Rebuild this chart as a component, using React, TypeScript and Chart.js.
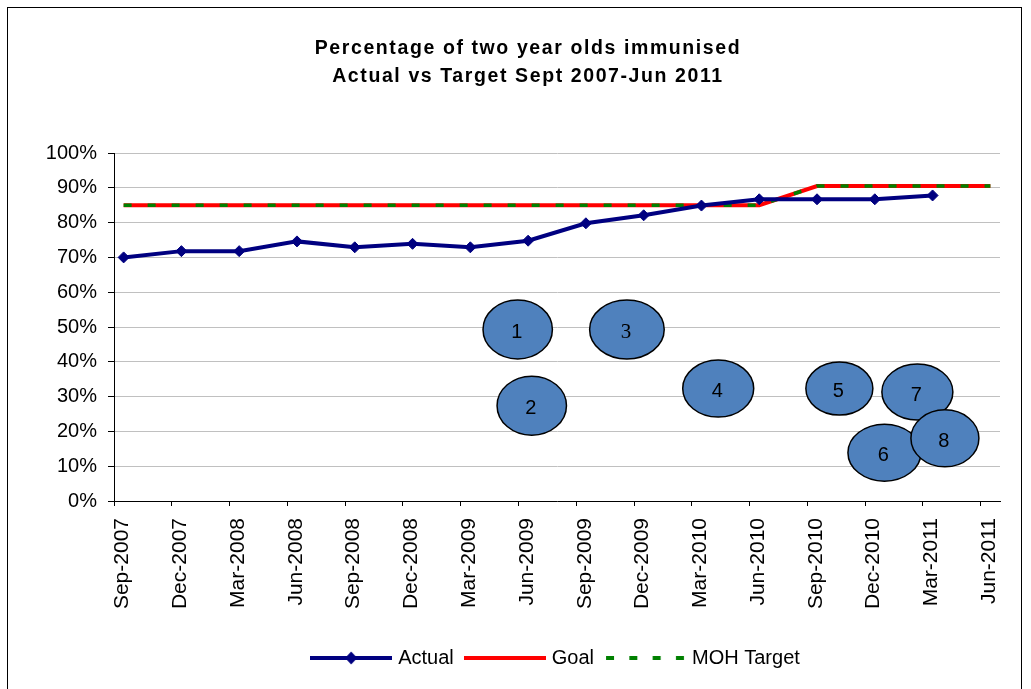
import React, { useEffect, useRef } from "react";
import { Chart, registerables } from "chart.js";

Chart.register(...registerables);

// ---- data ----
const tickLabels = [
  "Sep-2007", "Dec-2007", "Mar-2008", "Jun-2008", "Sep-2008", "Dec-2008",
  "Mar-2009", "Jun-2009", "Sep-2009", "Dec-2009", "Mar-2010", "Jun-2010",
  "Sep-2010", "Dec-2010", "Mar-2011", "Jun-2011",
];
const yTickValues = [0, 10, 20, 30, 40, 50, 60, 70, 80, 90, 100];
const actualValues = [70.0, 71.8, 71.8, 74.6, 72.9, 73.9, 72.9, 74.8, 79.8, 82.1, 84.9, 86.7, 86.7, 86.7, 87.8];
const goalValues = [85, 85, 85, 85, 85, 85, 85, 85, 85, 85, 85, 85, 90.5, 90.5, 90.5, 90.5];
const mohTargetValues = [85, 85, 85, 85, 85, 85, 85, 85, 85, 85, 85, 85, 90.5, 90.5, 90.5, 90.5];
// numbered callouts: x in months since Sep-2007, y in %
const bubbleLabels = ["1", "2", "3", "4", "5", "6", "7", "8"];
const bubbleX = [20.96, 21.69, 26.63, 31.37, 37.66, 40.0, 41.71, 43.14];
const bubbleY = [49.3, 27.4, 49.3, 32.3, 32.3, 13.9, 31.3, 18.0];

// ---- styles ----
const FONT = "'Liberation Sans', Arial, sans-serif";
const NAVY = "#000080";
const RED = "#FF0000";
const GREEN = "#008000";
const BUBBLE_RX = [34.7, 34.7, 37.3, 35.5, 33.5, 36.5, 35.5, 34];
const BUBBLE_RY = [29.5, 29.5, 29.5, 28.5, 26.5, 28.5, 28, 28.5];
const BUBBLE_FONT = ["sans", "sans", "serif", "sans", "sans", "sans", "sans", "sans"];
const MONTHS_PER_TICK = 3;
const POINT_OFFSET = 0.5; // data recorded mid-month
const TITLE_SHIFT_X = 7;

const bubblePlugin = {
  id: "numberedBubbles",
  afterDatasetsDraw(chart: any) {
    const { ctx, scales } = chart;
    const xs = scales.x;
    const ys = scales.y;
    bubbleLabels.forEach((lab, i) => {
      const cx = xs.getPixelForValue(bubbleX[i]);
      const cy = ys.getPixelForValue(bubbleY[i]);
      ctx.save();
      ctx.beginPath();
      ctx.ellipse(cx, cy, BUBBLE_RX[i], BUBBLE_RY[i], 0, 0, Math.PI * 2);
      ctx.fillStyle = "#4F81BD";
      ctx.fill();
      ctx.lineWidth = 1.5;
      ctx.strokeStyle = "#000";
      ctx.stroke();
      ctx.fillStyle = "#000";
      ctx.font =
        BUBBLE_FONT[i] === "serif"
          ? "21px 'Liberation Serif', 'Times New Roman', serif"
          : `20px ${FONT}`;
      ctx.textAlign = "center";
      ctx.textBaseline = "middle";
      ctx.fillText(lab, cx - 1, cy + 3);
      ctx.restore();
    });
  },
};

function makeLegendImage(kind: string): HTMLCanvasElement {
  const c = document.createElement("canvas");
  c.width = 82;
  c.height = 16;
  const g = c.getContext("2d")!;
  const y = 8;
  g.lineWidth = 4;
  if (kind === "actual") {
    g.strokeStyle = NAVY;
    g.beginPath();
    g.moveTo(0, y);
    g.lineTo(82, y);
    g.stroke();
    g.fillStyle = NAVY;
    g.beginPath();
    g.moveTo(41, y - 6.5);
    g.lineTo(47, y);
    g.lineTo(41, y + 6.5);
    g.lineTo(35, y);
    g.closePath();
    g.fill();
  } else if (kind === "goal") {
    g.strokeStyle = RED;
    g.beginPath();
    g.moveTo(0, y);
    g.lineTo(82, y);
    g.stroke();
  } else {
    g.strokeStyle = GREEN;
    g.setLineDash([8, 15.3]);
    g.beginPath();
    g.moveTo(2, y);
    g.lineTo(81, y);
    g.stroke();
  }
  return c;
}

export default function App() {
  const canvasRef = useRef<HTMLCanvasElement>(null);

  useEffect(() => {
    const canvas = canvasRef.current;
    if (!canvas) return;
    const legendImgs = {
      actual: makeLegendImage("actual"),
      goal: makeLegendImage("goal"),
      moh: makeLegendImage("moh"),
    };
    const chart = new Chart(canvas, {
      type: "line",
      data: {
        datasets: [
          {
            label: "Actual",
            data: actualValues.map((v, i) => ({ x: i * MONTHS_PER_TICK + POINT_OFFSET, y: v })),
            borderColor: NAVY,
            backgroundColor: NAVY,
            borderWidth: 4,
            pointStyle: "rectRot",
            pointRadius: 5.5,
            pointBorderWidth: 1,
            pointBackgroundColor: NAVY,
            pointBorderColor: NAVY,
            tension: 0,
            order: 0,
          },
          {
            label: "Goal",
            data: goalValues.map((v, i) => ({ x: i * MONTHS_PER_TICK + POINT_OFFSET, y: v })),
            borderColor: RED,
            backgroundColor: RED,
            borderWidth: 4,
            pointRadius: 0,
            tension: 0,
            order: 2,
          },
          {
            label: "MOH Target",
            data: mohTargetValues.map((v, i) => ({ x: i * MONTHS_PER_TICK + POINT_OFFSET, y: v })),
            borderColor: GREEN,
            backgroundColor: GREEN,
            borderWidth: 3.5,
            borderDash: [8, 16],
            pointRadius: 0,
            tension: 0,
            order: 1,
          },
        ],
      },
      options: {
        animation: false,
        responsive: false,
        devicePixelRatio: 1,
        layout: { padding: { left: 34, right: 21, top: 17.25, bottom: 50 } },
        scales: {
          x: {
            type: "linear",
            min: 0,
            max: 46,
            afterBuildTicks: (s: any) => {
              s.ticks = tickLabels.map((_, i) => ({ value: i * MONTHS_PER_TICK }));
            },
            afterFit: (s: any) => {
              s.height = 133;
            },
            ticks: {
              autoSkip: false,
              minRotation: 90,
              maxRotation: 90,
              labelOffset: 8.5,
              padding: 12,
              color: "#000",
              font: { family: FONT, size: 21 },
              callback: (_v: any, i: number) => tickLabels[i],
            },
            grid: {
              drawOnChartArea: false,
              drawTicks: true,
              tickLength: 5,
              tickColor: "#000",
              color: "#000",
            },
            border: { color: "#000", width: 1 },
          },
          y: {
            min: 0,
            max: 100,
            afterBuildTicks: (s: any) => {
              s.ticks = yTickValues.map((v) => ({ value: v }));
            },
            afterFit: (s: any) => {
              s.width = 72;
            },
            ticks: {
              autoSkip: false,
              padding: 11,
              color: "#000",
              font: { family: FONT, size: 20 },
              callback: (v: any) => `${v}%`,
            },
            grid: { color: "#C0C0C0", tickColor: "#000", tickLength: 6, lineWidth: 1 },
            border: { color: "#000", width: 1 },
          },
        },
        plugins: {
          tooltip: { enabled: false },
          title: {
            display: true,
            text: ["Percentage of two year olds immunised", "Actual vs Target Sept 2007-Jun 2011"],
            color: "#000",
            font: { family: FONT, size: 19.5, weight: "bold", lineHeight: 27.5 / 19.5 },
            padding: { top: 10, bottom: 62.75 },
          },
          legend: {
            position: "bottom",
            fullSize: false,
            align: "center",
            labels: {
              usePointStyle: true,
              pointStyleWidth: 74,
              padding: 14,
              color: "#000",
              font: { family: FONT, size: 20 },
              generateLabels: () => [
                { text: "Actual", pointStyle: legendImgs.actual, fillStyle: NAVY, strokeStyle: NAVY, lineWidth: 0, datasetIndex: 0, hidden: false },
                { text: "Goal", pointStyle: legendImgs.goal, fillStyle: RED, strokeStyle: RED, lineWidth: 0, datasetIndex: 1, hidden: false },
                { text: "MOH Target", pointStyle: legendImgs.moh, fillStyle: GREEN, strokeStyle: GREEN, lineWidth: 0, datasetIndex: 2, hidden: false },
              ],
            },
          },
        },
      } as any,
      plugins: [bubblePlugin],
    });

    const tb = (chart as any).titleBlock;
    if (tb) {
      const orig = tb.draw.bind(tb);
      tb.draw = (...args: any[]) => {
        const c: any = chart.ctx;
        c.save();
        c.translate(TITLE_SHIFT_X, 0);
        c.letterSpacing = "1.6px";
        orig(...args);
        c.restore();
      };
      chart.draw();
    }

    return () => {
      chart.destroy();
    };
  }, []);

  return (
    <div
      style={{
        position: "fixed",
        left: 7,
        top: 7,
        width: 1013,
        height: 730,
        border: "1px solid #000",
        background: "#fff",
      }}
    >
      <canvas ref={canvasRef} width={1013} height={720} style={{ display: "block" }} />
    </div>
  );
}
